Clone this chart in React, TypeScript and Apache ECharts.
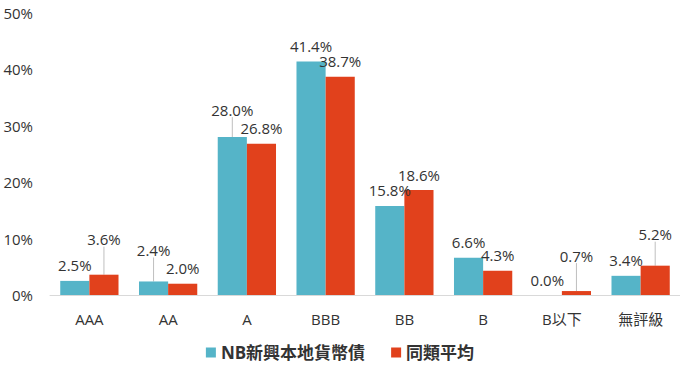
import React, { useEffect, useRef } from "react";
import * as echarts from "echarts";

const categories = ["AAA", "AA", "A", "BBB", "BB", "B", "B以下", "無評級"];
const seriesNames = ["NB新興本地貨幣債", "同類平均"];
const nbValues = [2.5, 2.4, 28.0, 41.4, 15.8, 6.6, 0.0, 3.4];
const avgValues = [3.6, 2.0, 26.8, 38.7, 18.6, 4.3, 0.7, 5.2];
// extra upward shift of a label (with a leader line), per category
const nbLabelShift = [0, -16, -12, 0, 0, 0, 0, 0];
const avgLabelShift = [-20, 0, 0, 0, 0, 0, -20, -16];

const FONT = "'Open Sans', 'Noto Sans CJK TC', sans-serif";
const BLUE = "#55B4C8";
const RED = "#E1411C";

function makeData(values: number[], shifts: number[]) {
  return values.map((v, i) => ({
    value: v,
    labelLine: { show: shifts[i] !== 0 },
  }));
}

export default function App() {
  const ref = useRef<HTMLDivElement>(null);
  useEffect(() => {
    if (!ref.current) return;
    const chart = echarts.init(ref.current, undefined, { renderer: "svg" });
    const labelCommon = {
      show: true,
      position: "top" as const,
      distance: 8,
      fontFamily: FONT,
      fontSize: 15,
      color: "#333",
      formatter: (p: any) => p.value.toFixed(1) + "%",
    };
    chart.setOption({
      animation: false,
      textStyle: { fontFamily: FONT },
      grid: { left: 50, right: 0, top: 13, bottom: 72 },
      legend: {
        bottom: 1,
        left: "center",
        itemWidth: 10,
        itemHeight: 10,
        itemGap: 26,
        icon: "rect",
        textStyle: { fontFamily: FONT, fontSize: 17, color: "#333", fontWeight: "bold" },
        data: seriesNames,
      },
      xAxis: {
        type: "category",
        data: categories,
        axisLine: { lineStyle: { color: "#d9d9d9", width: 1 } },
        axisTick: { show: false },
        axisLabel: { fontFamily: FONT, fontSize: 15, color: "#333", margin: 16 },
      },
      yAxis: {
        type: "value",
        min: 0,
        max: 50,
        interval: 10,
        splitLine: { show: false },
        axisLine: { show: false },
        axisTick: { show: false },
        axisLabel: {
          fontFamily: FONT,
          fontSize: 15,
          color: "#333",
          margin: 17,
          formatter: "{value}%",
        },
      },
      series: [
        {
          name: seriesNames[0],
          type: "bar",
          data: makeData(nbValues, nbLabelShift),
          itemStyle: { color: BLUE },
          barGap: "0%",
          barCategoryGap: "26%",
          label: labelCommon,
          labelLine: { show: false, lineStyle: { color: "#bfbfbf", width: 1 } },
          labelLayout: (p: any) => ({ dy: nbLabelShift[p.dataIndex] }),
        },
        {
          name: seriesNames[1],
          type: "bar",
          data: makeData(avgValues, avgLabelShift),
          itemStyle: { color: RED },
          barGap: "0%",
          barCategoryGap: "26%",
          label: labelCommon,
          labelLine: { show: false, lineStyle: { color: "#bfbfbf", width: 1 } },
          labelLayout: (p: any) => ({ dy: avgLabelShift[p.dataIndex] }),
        },
      ],
    });
    return () => chart.dispose();
  }, []);
  return <div ref={ref} style={{ width: 680, height: 367, position: "absolute", left: 0, top: 0 }} />;
}
